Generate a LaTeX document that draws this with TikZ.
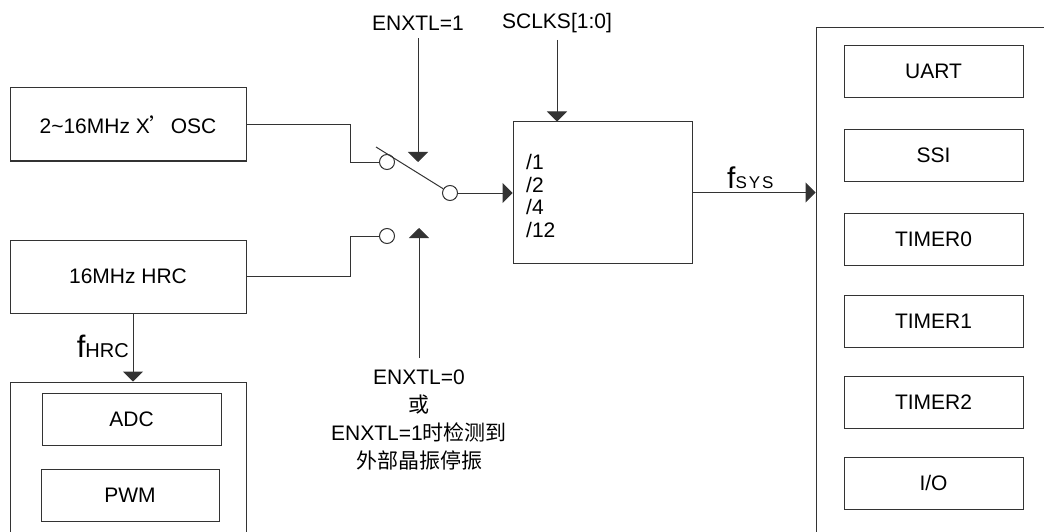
\documentclass[tikz,border=0pt]{standalone}
\usepackage{fontspec}
\setmainfont{Liberation Sans}
\newfontfamily\cjk{Noto Sans CJK SC}
\usetikzlibrary{arrows.meta,positioning}
\tikzstyle{wire}=[draw=black!80,line width=1pt]
\tikzstyle{sig}=[wire,-{Triangle[width=20pt,length=10pt]}]
\tikzstyle{blk}=[draw=black!80,line width=1pt,inner sep=0pt]
\tikzstyle{periph}=[blk,minimum width=179pt,minimum height=52pt]
\tikzstyle{pin}=[circle,draw=black!80,fill=white,line width=1pt,minimum size=15pt,inner sep=0pt]
\newcommand{\txtsize}{\fontsize{21}{25}\selectfont}
% f with a big f and a small index on the same baseline
\newcommand{\freq}[3]{{\fontsize{#1}{#1}\selectfont f}{\fontsize{#2}{#2}\selectfont #3}}

\begin{document}
\begin{tikzpicture}[x=1pt,y=-1pt,every node/.style={font=\txtsize,inner sep=0pt}]
	\useasboundingbox (0,0) rectangle (1044,532);
	\clip (0,0) rectangle (1044,532);
	% clock sources
	\node[blk,minimum width=236pt,minimum height=73pt] (osc) at (128,124.5) {2\textasciitilde16MHz X{\cjk ’}OSC};
	\node[blk,minimum width=236pt,minimum height=73pt] (hrc) at (128,276.5) {16MHz HRC};
	% switch
	\node[pin] (sw1) at (387,162) {};
	\node[pin] (sw2) at (387,236) {};
	\node[pin] (swo) at (450,193) {};
	\coordinate (lever) at (376,147);
	\draw[wire] (osc.east) -| ([xshift=-29pt]sw1.west) -- (sw1.west);
	\draw[wire] (hrc.east) -| ([xshift=-29pt]sw2.west) -- (sw2.west);
	\draw[wire] (lever) -- (swo);
	% divider
	\node[blk,minimum width=179pt,minimum height=141pt] (div) at (602.5,192.5) {};
	\node[align=left,anchor=west,font=\fontsize{21}{22.7}\selectfont] (divlist) at (526,196) {/1\\/2\\/4\\/12};
	\draw[sig] (swo) -- (swo -| div.west);
	% control inputs
	\node (en1) at (418,23) {ENXTL=1};
	\node (sclks) at (557,23) {SCLKS[1:0]};
	\node[align=center,font=\fontsize{21}{28.3}\selectfont] (en0) at (419,420) {ENXTL=0\\{\cjk 或}\\ENXTL=1{\cjk 时检测到}\\{\cjk 外部晶振停振}};
	\draw[sig] ([yshift=-8pt]en1.south) -- (en1.south |- sw1);
	\draw[sig] ([yshift=-7pt]sclks.south) -- (sclks.south |- div.north);
	\draw[sig] ([yshift=11pt]en0.north) -- (en0.north |- sw2.north);
	% digital peripherals on fsys
	\node[blk,minimum width=244pt,minimum height=532pt] (dbox) at (938,294) {};
	\foreach \name/\txt/\y in {uart/UART/71.5,ssi/SSI/155.5,tim0/TIMER0/239.5,tim1/TIMER1/321.5,tim2/TIMER2/402,io/I\slash O/483}
		\node[periph] (\name) at (933.5,\y) {\txt};
	\draw[sig] (div.east) -- (div.east -| dbox.west);
	\node[anchor=base west] (fsys) at (727,188) {\freq{30}{17}{S\kern2pt Y\kern2pt S}};
	% analog peripherals on fhrc
	\node[blk,minimum width=236pt,minimum height=178pt] (abox) at (128,471) {};
	\node[periph] (adc) at (131.5,419) {ADC};
	\node[periph,minimum width=178pt] (pwm) at (130,495) {PWM};
	\draw[sig] ([xshift=5pt]hrc.south) -- ([xshift=5pt]hrc.south |- abox.north);
	\node[anchor=base east] (fhrc) at (129,357) {\freq{31}{20}{HRC}};
\end{tikzpicture}
\end{document}
